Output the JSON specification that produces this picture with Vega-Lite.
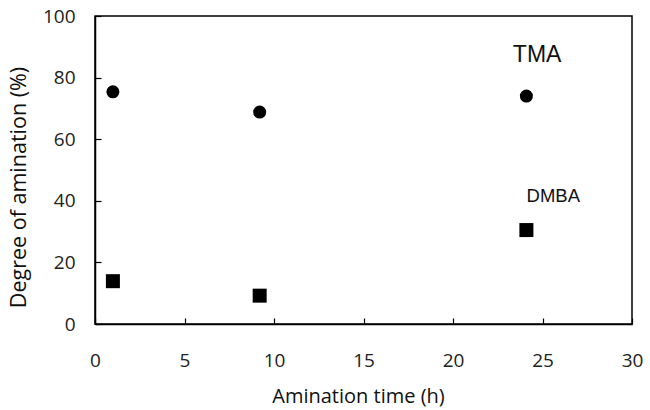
{
  "$schema": "https://vega.github.io/schema/vega-lite/v6.json",
  "width": 537,
  "height": 308,
  "autosize": "none",
  "padding": {"left": 95, "top": 16, "right": 18, "bottom": 86},
  "background": "white",
  "config": {
    "view": {"stroke": "black", "strokeWidth": 1.5}
  },
  "datasets": {
    "pts": [
      {"time": 1, "value": 75.4, "series": "TMA"},
      {"time": 9.2, "value": 68.8, "series": "TMA"},
      {"time": 24.1, "value": 74.0, "series": "TMA"},
      {"time": 1, "value": 13.9, "series": "DMBA"},
      {"time": 9.2, "value": 9.2, "series": "DMBA"},
      {"time": 24.1, "value": 30.5, "series": "DMBA"}
    ],
    "labels": [
      {"time": 24.7, "value": 87.4, "text": "TMA"},
      {"time": 25.6, "value": 41.7, "text": "DMBA"}
    ]
  },
  "layer": [
    {
      "data": {"name": "pts"},
      "mark": {"type": "point", "filled": true, "opacity": 1, "color": "black"},
      "encoding": {
        "x": {
          "field": "time", "type": "quantitative",
          "scale": {"domain": [0, 30], "nice": false, "zero": false},
          "axis": {
            "values": [0, 5, 10, 15, 20, 25, 30], "title": "Amination time (h)",
            "grid": false, "domainColor": "black", "domainWidth": 1.5,
            "tickColor": "black", "tickWidth": 1.2, "tickSize": -6,
            "labelFont": "Open Sans", "labelFontSize": 19, "labelColor": "#222",
            "labelPadding": 33, "labelFlush": false,
            "titleFont": "Open Sans", "titleFontSize": 20, "titleFontWeight": "normal", "titleColor": "#111",
            "titlePadding": 16, "titleX": 263
          }
        },
        "y": {
          "field": "value", "type": "quantitative",
          "scale": {"domain": [0, 100], "nice": false},
          "axis": {
            "values": [0, 20, 40, 60, 80, 100], "title": "Degree of amination (%)",
            "grid": false, "domainColor": "black", "domainWidth": 1.5,
            "tickColor": "black", "tickWidth": 1.2, "tickSize": -6,
            "labelFont": "Open Sans", "labelFontSize": 19, "labelColor": "#222",
            "labelPadding": 26, "labelFlush": false,
            "titleFont": "Open Sans", "titleFontSize": 21.5, "titleFontWeight": "normal", "titleColor": "#111",
            "titlePadding": 12, "titleY": 171
          }
        },
        "shape": {
          "field": "series", "type": "nominal",
          "scale": {"domain": ["TMA", "DMBA"], "range": ["circle", "square"]},
          "legend": null
        },
        "size": {
          "field": "series", "type": "nominal",
          "scale": {"domain": ["TMA", "DMBA"], "range": [170, 196]},
          "legend": null
        }
      }
    },
    {
      "data": {"name": "labels"},
      "transform": [{"filter": "datum.text === 'TMA'"}],
      "mark": {"type": "text", "font": "Liberation Sans", "fontSize": 23, "color": "#111", "align": "center", "baseline": "middle"},
      "encoding": {
        "x": {"field": "time", "type": "quantitative"},
        "y": {"field": "value", "type": "quantitative"},
        "text": {"field": "text"}
      }
    },
    {
      "data": {"name": "labels"},
      "transform": [{"filter": "datum.text === 'DMBA'"}],
      "mark": {"type": "text", "font": "Liberation Sans", "fontSize": 18.5, "color": "#111", "align": "center", "baseline": "middle"},
      "encoding": {
        "x": {"field": "time", "type": "quantitative"},
        "y": {"field": "value", "type": "quantitative"},
        "text": {"field": "text"}
      }
    }
  ]
}
